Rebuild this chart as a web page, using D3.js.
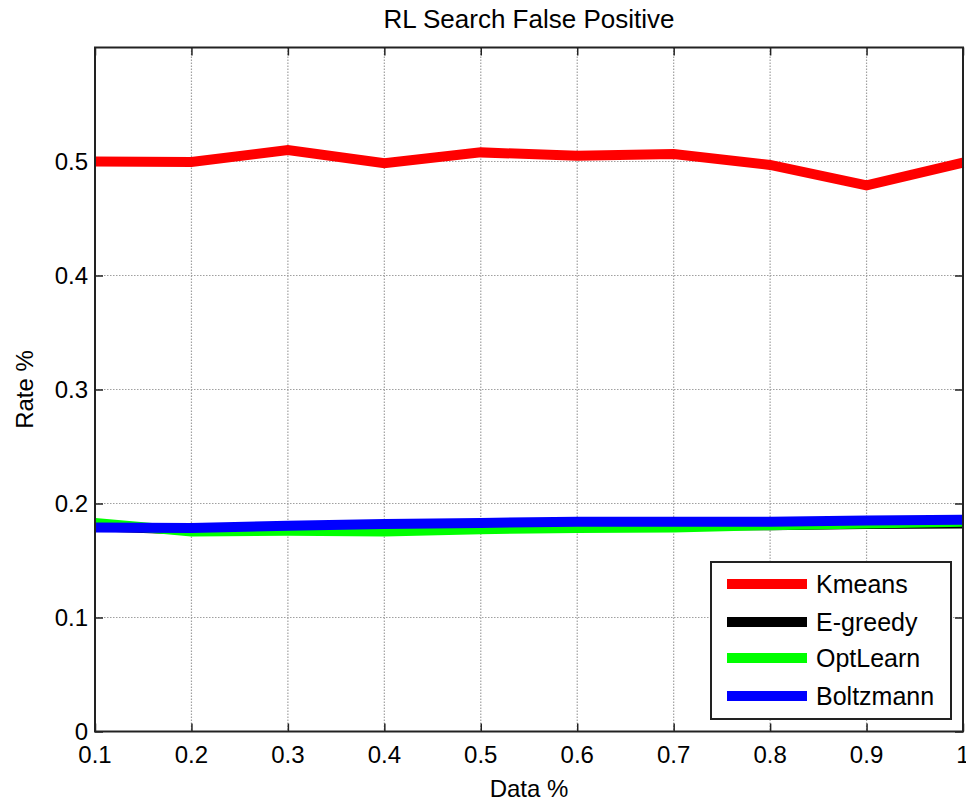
<!DOCTYPE html>
<html>
<head>
<meta charset="utf-8">
<script src="https://cdn.jsdelivr.net/npm/d3@7"></script>
<style>
  html, body { margin: 0; padding: 0; background: #fff; }
  svg { display: block; font-family: Arial, "Liberation Sans", sans-serif; }
</style>
</head>
<body>
<svg id="chart" width="966" height="804"></svg>
<script>
// Data fraction on the x axis
const dataPct = [0.1, 0.2, 0.3, 0.4, 0.5, 0.6, 0.7, 0.8, 0.9, 1.0];

// False-positive rate per method
const kmeans     = [0.500, 0.4995, 0.510, 0.4985, 0.508, 0.505, 0.5065, 0.497, 0.479, 0.499];
const egreedy    = [0.180, 0.177, 0.178, 0.179, 0.180, 0.181, 0.181, 0.181, 0.182, 0.1825];
const optlearn   = [0.183, 0.1755, 0.176, 0.1755, 0.1775, 0.1785, 0.179, 0.181, 0.1825, 0.184];
const boltzmann  = [0.179, 0.1785, 0.1805, 0.182, 0.183, 0.184, 0.184, 0.184, 0.185, 0.1857];

const seriesNames  = ["Kmeans", "E-greedy", "OptLearn", "Boltzmann"];
const seriesValues = [kmeans, egreedy, optlearn, boltzmann];
const seriesColors = ["#ff0000", "#000000", "#00ff00", "#0000ff"];

const xTicks = [0.1, 0.2, 0.3, 0.4, 0.5, 0.6, 0.7, 0.8, 0.9, 1.0];
const xTickLabels = ["0.1", "0.2", "0.3", "0.4", "0.5", "0.6", "0.7", "0.8", "0.9", "1"];
const yTicks = [0, 0.1, 0.2, 0.3, 0.4, 0.5];
const yTickLabels = ["0", "0.1", "0.2", "0.3", "0.4", "0.5"];

(function draw() {
  const svg = d3.select("#chart");
  const pl = 95, pr = 963, pt = 47.5, pb = 731.5;

  const x = d3.scaleLinear().domain([0.1, 1.0]).range([pl, pr]);
  const y = d3.scaleLinear().domain([0, 0.6]).range([pb, pt]);

  // Dotted grid
  const grid = svg.append("g");
  grid.selectAll("line.vx").data(xTicks.slice(1, -1)).enter().append("line")
    .attr("x1", d => x(d)).attr("x2", d => x(d))
    .attr("y1", pt).attr("y2", pb)
    .attr("stroke", "#a0a0a0").attr("stroke-width", 1.2).attr("stroke-dasharray", "1.5,1.5");
  grid.selectAll("line.hy").data(yTicks.slice(1)).enter().append("line")
    .attr("y1", d => y(d)).attr("y2", d => y(d))
    .attr("x1", pl).attr("x2", pr)
    .attr("stroke", "#a0a0a0").attr("stroke-width", 1.2).attr("stroke-dasharray", "1.5,1.5");

  // Inward ticks on all four sides
  const tickLen = 8;
  const axisColor = "#222";
  const bottomAxis = d3.axisBottom(x).tickValues(xTicks).tickSize(-tickLen).tickFormat(() => "");
  const topAxis = d3.axisTop(x).tickValues(xTicks).tickSize(-tickLen).tickFormat(() => "");
  const leftAxis = d3.axisLeft(y).tickValues(yTicks).tickSize(-tickLen).tickFormat(() => "");
  const rightAxis = d3.axisRight(y).tickValues(yTicks).tickSize(-tickLen).tickFormat(() => "");

  function styleAxis(g) {
    g.select(".domain").remove();
    g.selectAll(".tick line").attr("stroke", axisColor).attr("stroke-width", 1.5);
  }
  svg.append("g").attr("transform", `translate(0,${pb})`).call(bottomAxis).call(styleAxis);
  svg.append("g").attr("transform", `translate(0,${pt})`).call(topAxis).call(styleAxis);
  svg.append("g").attr("transform", `translate(${pl},0)`).call(leftAxis).call(styleAxis);
  svg.append("g").attr("transform", `translate(${pr},0)`).call(rightAxis).call(styleAxis);

  // Series lines
  const line = d3.line().x((d, i) => x(dataPct[i])).y(d => y(d));
  svg.append("g").selectAll("path").data(seriesValues).enter().append("path")
    .attr("d", d => line(d))
    .attr("fill", "none")
    .attr("stroke", (d, i) => seriesColors[i])
    .attr("stroke-width", 10)
    .attr("stroke-linejoin", "miter");

  // Plot frame
  svg.append("rect")
    .attr("x", pl).attr("y", pt)
    .attr("width", pr - pl).attr("height", pb - pt)
    .attr("fill", "none").attr("stroke", axisColor).attr("stroke-width", 2);

  // Tick labels
  svg.append("g").selectAll("text").data(xTicks).enter().append("text")
    .attr("x", d => x(d)).attr("y", 763)
    .attr("text-anchor", "middle").attr("font-size", 24).attr("fill", "#000")
    .text((d, i) => xTickLabels[i]);
  svg.append("g").selectAll("text").data(yTicks).enter().append("text")
    .attr("x", 88).attr("y", d => y(d))
    .attr("dy", "0.35em")
    .attr("text-anchor", "end").attr("font-size", 24).attr("fill", "#000")
    .text((d, i) => yTickLabels[i]);

  // Title and axis labels
  svg.append("text")
    .attr("x", (pl + pr) / 2).attr("y", 28)
    .attr("text-anchor", "middle").attr("font-size", 26).attr("fill", "#000")
    .text("RL Search False Positive");
  svg.append("text")
    .attr("x", (pl + pr) / 2).attr("y", 797)
    .attr("text-anchor", "middle").attr("font-size", 24).attr("fill", "#000")
    .text("Data %");
  svg.append("text")
    .attr("transform", `translate(33,${(pt + pb) / 2}) rotate(-90)`)
    .attr("text-anchor", "middle").attr("font-size", 24).attr("fill", "#000")
    .text("Rate %");

  // Legend
  const lg = svg.append("g");
  lg.append("rect")
    .attr("x", 711).attr("y", 562).attr("width", 240).attr("height", 157)
    .attr("fill", "#fff").attr("stroke", axisColor).attr("stroke-width", 2);
  const rowY = [584, 622, 658, 696];
  seriesNames.forEach((name, i) => {
    lg.append("line")
      .attr("x1", 727).attr("x2", 807)
      .attr("y1", rowY[i]).attr("y2", rowY[i])
      .attr("stroke", seriesColors[i]).attr("stroke-width", 10);
    lg.append("text")
      .attr("x", 816).attr("y", rowY[i]).attr("dy", "0.36em")
      .attr("font-size", 25).attr("fill", "#000")
      .text(name);
  });
})();
</script>
</body>
</html>
